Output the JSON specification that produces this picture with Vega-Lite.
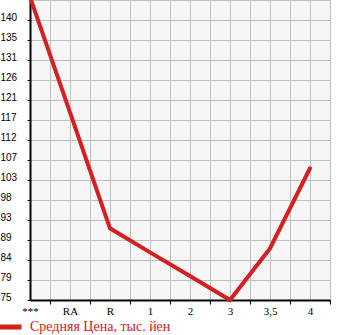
{
  "$schema": "https://vega.github.io/schema/vega-lite/v6.json",
  "width": 300,
  "height": 300,
  "autosize": "none",
  "padding": {"left": 30, "top": 0, "right": 15, "bottom": 35},
  "background": "white",
  "config": {"view": {"fill": "#f6f6f6", "stroke": "#c0c0c0", "strokeWidth": 1}},
  "data": {
    "values": [
      {"grade": "***", "price": 145.2},
      {"grade": "RA", "price": 118.3},
      {"grade": "R", "price": 91.3},
      {"grade": "1", "price": 85.7},
      {"grade": "2", "price": 80.2},
      {"grade": "3", "price": 74.6},
      {"grade": "3,5", "price": 86.6},
      {"grade": "4", "price": 105.3}
    ]
  },
  "layer": [
    {
      "mark": {"type": "line", "strokeWidth": 4, "strokeCap": "round"},
      "encoding": {
        "x": {
          "field": "grade",
          "type": "ordinal",
          "scale": {"type": "point", "domain": ["***", "RA", "R", "1", "2", "3", "3,5", "4"], "padding": 0.25, "align": 0},
          "axis": {
            "title": null,
            "orient": "bottom",
            "domainColor": "black",
            "domainWidth": 2,
            "tickColor": "black",
            "tickSize": 4,
            "tickWidth": 1,
            "tickOffset": 20,
            "labelOffset": -20,
            "labelAngle": 0,
            "labelFont": "Liberation Serif",
            "labelFontSize": 11,
            "labelColor": "black",
            "labelPadding": 1,
            "grid": true,
            "gridColor": "#c0c0c0",
            "gridWidth": 1
          }
        },
        "y": {
          "field": "price",
          "type": "quantitative",
          "scale": {"domain": [74.6, 144.5], "nice": false, "zero": false},
          "axis": {
            "title": null,
            "values": [74.6, 79.26, 83.92, 88.58, 93.24, 97.9, 102.56, 107.22, 111.88, 116.54, 121.2, 125.86, 130.52, 135.18, 139.84],
            "format": ".0f",
            "domainColor": "black",
            "domainWidth": 2,
            "tickColor": "black",
            "tickSize": 3,
            "tickWidth": 1,
            "labelAlign": "left",
            "labelPadding": 27,
            "labelBaseline": "alphabetic",
            "labelFont": "Liberation Sans",
            "labelFontSize": 10,
            "labelColor": "black",
            "grid": true,
            "gridColor": "#c0c0c0",
            "gridWidth": 1
          }
        },
        "color": {
          "datum": "Средняя Цена, тыс. йен",
          "scale": {"range": ["#d42020"]},
          "legend": {
            "title": null,
            "orient": "none",
            "legendX": -33,
            "legendY": 313.5,
            "symbolType": "stroke",
            "symbolStrokeWidth": 5,
            "symbolSize": 484,
            "labelFont": "Liberation Serif",
            "labelFontSize": 14,
            "labelColor": "#d42020",
            "labelOffset": 6,
            "padding": 0
          }
        }
      }
    },
    {
      "mark": {"type": "point", "opacity": 0},
      "encoding": {
        "x": {
          "field": "grade",
          "type": "ordinal",
          "axis": {
            "orient": "top",
            "title": null,
            "labels": false,
            "ticks": false,
            "domain": false,
            "grid": true,
            "gridWidth": 1,
            "gridColor": {"condition": {"test": "datum.value === '***'", "value": "transparent"}, "value": "#c0c0c0"}
          }
        }
      }
    }
  ],
  "resolve": {"axis": {"x": "independent"}}
}
